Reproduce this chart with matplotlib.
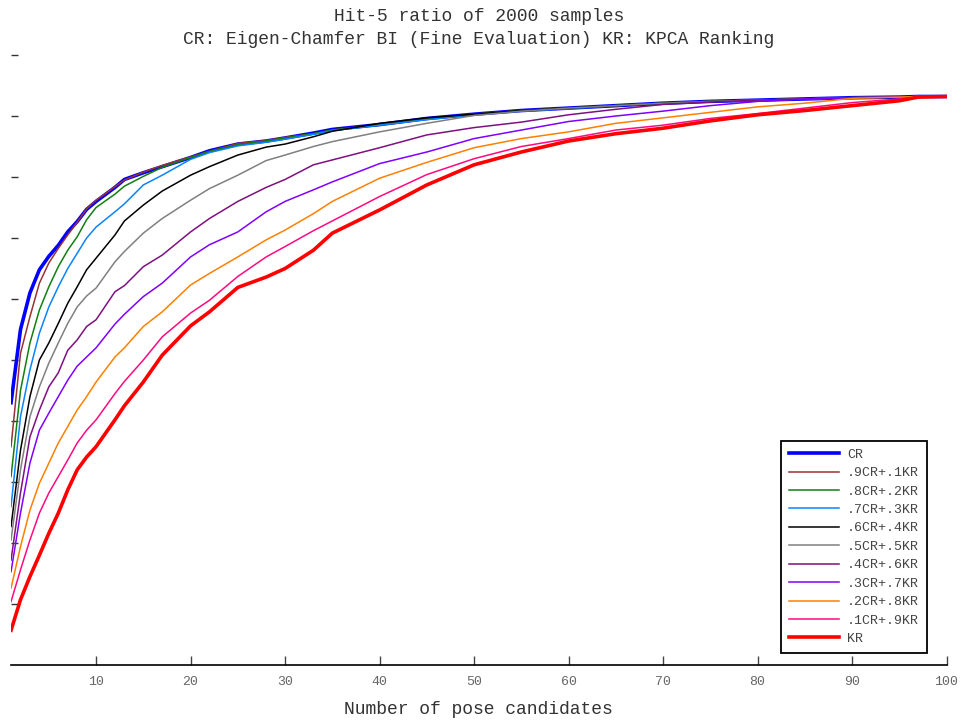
import matplotlib
matplotlib.use("Agg")
import matplotlib.pyplot as plt

plt.rcParams["font.family"] = ["Liberation Mono", "DejaVu Sans Mono"]

# number of pose candidates (sampled positions along each curve)
adaylar = [1, 2, 3, 4, 5, 6, 7, 8, 9, 10, 12, 13, 15, 17, 20, 22, 25, 28, 30, 33,
           35, 40, 45, 50, 55, 60, 65, 70, 75, 80, 85, 90, 95, 97, 100]

cr = [0.430, 0.550, 0.610, 0.648, 0.670, 0.688, 0.710, 0.727, 0.747, 0.760, 0.783, 0.796,
      0.807, 0.817, 0.832, 0.843, 0.854, 0.859, 0.864, 0.872, 0.878, 0.886, 0.896, 0.903,
      0.909, 0.913, 0.917, 0.921, 0.924, 0.926, 0.928, 0.930, 0.931, 0.932, 0.932]
cr9 = [0.358, 0.511, 0.571, 0.626, 0.659, 0.683, 0.705, 0.726, 0.748, 0.762, 0.784, 0.795,
       0.808, 0.819, 0.833, 0.842, 0.855, 0.860, 0.865, 0.871, 0.877, 0.886, 0.895, 0.903,
       0.909, 0.913, 0.917, 0.921, 0.924, 0.926, 0.928, 0.930, 0.931, 0.932, 0.932]
cr8 = [0.309, 0.450, 0.528, 0.582, 0.620, 0.653, 0.680, 0.702, 0.730, 0.750, 0.772, 0.785,
       0.801, 0.816, 0.832, 0.842, 0.853, 0.859, 0.864, 0.871, 0.877, 0.885, 0.895, 0.903,
       0.909, 0.913, 0.917, 0.921, 0.924, 0.926, 0.928, 0.930, 0.931, 0.932, 0.932]
cr7 = [0.260, 0.407, 0.484, 0.544, 0.587, 0.620, 0.650, 0.675, 0.700, 0.718, 0.743, 0.756,
       0.787, 0.803, 0.829, 0.840, 0.851, 0.857, 0.862, 0.870, 0.876, 0.885, 0.894, 0.902,
       0.908, 0.912, 0.917, 0.921, 0.924, 0.926, 0.928, 0.930, 0.931, 0.932, 0.932]
cr6 = [0.227, 0.352, 0.440, 0.500, 0.528, 0.560, 0.593, 0.620, 0.648, 0.667, 0.705, 0.728,
       0.754, 0.777, 0.803, 0.817, 0.836, 0.849, 0.854, 0.866, 0.875, 0.888, 0.897, 0.903,
       0.909, 0.913, 0.917, 0.921, 0.924, 0.926, 0.928, 0.930, 0.931, 0.932, 0.932]
cr5 = [0.205, 0.320, 0.407, 0.456, 0.495, 0.528, 0.560, 0.587, 0.605, 0.618, 0.661, 0.678,
       0.708, 0.732, 0.762, 0.781, 0.803, 0.827, 0.836, 0.850, 0.858, 0.874, 0.888, 0.901,
       0.908, 0.913, 0.917, 0.921, 0.924, 0.926, 0.928, 0.930, 0.931, 0.932, 0.932]
cr4 = [0.172, 0.282, 0.374, 0.418, 0.456, 0.479, 0.516, 0.533, 0.555, 0.566, 0.612, 0.622,
       0.653, 0.672, 0.710, 0.732, 0.760, 0.783, 0.796, 0.820, 0.828, 0.848, 0.869, 0.881,
       0.890, 0.902, 0.911, 0.919, 0.923, 0.926, 0.928, 0.930, 0.931, 0.932, 0.932]
cr3 = [0.153, 0.249, 0.331, 0.385, 0.413, 0.440, 0.467, 0.490, 0.505, 0.520, 0.559, 0.575,
       0.604, 0.626, 0.669, 0.689, 0.710, 0.743, 0.760, 0.779, 0.792, 0.822, 0.841, 0.863,
       0.877, 0.891, 0.900, 0.908, 0.917, 0.924, 0.928, 0.930, 0.931, 0.932, 0.932]
cr2 = [0.126, 0.194, 0.254, 0.298, 0.331, 0.364, 0.391, 0.418, 0.440, 0.464, 0.505, 0.520,
       0.555, 0.579, 0.623, 0.642, 0.669, 0.697, 0.713, 0.740, 0.760, 0.798, 0.824, 0.848,
       0.863, 0.874, 0.888, 0.897, 0.906, 0.915, 0.921, 0.929, 0.931, 0.932, 0.932]
cr1 = [0.104, 0.156, 0.205, 0.249, 0.282, 0.309, 0.336, 0.364, 0.385, 0.402, 0.445, 0.465,
       0.500, 0.538, 0.577, 0.598, 0.637, 0.669, 0.686, 0.712, 0.728, 0.768, 0.804, 0.830,
       0.850, 0.863, 0.877, 0.885, 0.896, 0.904, 0.913, 0.922, 0.928, 0.931, 0.932]
kr = [0.057, 0.107, 0.145, 0.180, 0.216, 0.249, 0.287, 0.320, 0.341, 0.358, 0.402, 0.425,
      0.464, 0.508, 0.556, 0.579, 0.619, 0.636, 0.650, 0.680, 0.708, 0.746, 0.787, 0.820,
      0.841, 0.859, 0.871, 0.880, 0.892, 0.902, 0.909, 0.917, 0.925, 0.931, 0.932]

seriler = [cr, cr9, cr8, cr7, cr6, cr5, cr4, cr3, cr2, cr1, kr]
etiketler = ["CR", ".9CR+.1KR", ".8CR+.2KR", ".7CR+.3KR", ".6CR+.4KR", ".5CR+.5KR",
             ".4CR+.6KR", ".3CR+.7KR", ".2CR+.8KR", ".1CR+.9KR", "KR"]
renkler = ["#0000ff", "#993333", "#108010", "#0a84ff", "#000000", "#808080",
           "#7f107f", "#8000ff", "#ff8000", "#ff0a80", "#ff0000"]

fig = plt.figure(figsize=(9.68, 7.22), dpi=100)
ax = fig.add_axes([0.0114, 0.0789, 0.9664, 0.8449])

for y, etiket, renk in zip(seriler, etiketler, renkler):
    kalin = 2.6 if etiket in ("CR", "KR") else 1.1
    ax.plot(adaylar, y, color=renk, linewidth=kalin, label=etiket)

ax.set_xlim(1, 100)
ax.set_ylim(0, 1)
ax.set_xticks(range(10, 101, 10))
ax.set_yticks([i / 10 for i in range(1, 11)])
ax.set_yticklabels([])
ax.tick_params(axis="x", direction="in", length=6.5, width=1, color="#444444",
               labelcolor="#666666", labelsize=9.5, pad=8)
ax.tick_params(axis="y", direction="in", length=5, width=1, color="#333333")

for s in ["top", "right", "left"]:
    ax.spines[s].set_visible(False)
ax.spines["bottom"].set_linewidth(1.2)

plt.title("Hit-5 ratio of 2000 samples\nCR: Eigen-Chamfer BI (Fine Evaluation) KR: KPCA Ranking",
          fontsize=13, color="#333333", linespacing=1.45, pad=8)
plt.xlabel("Number of pose candidates", fontsize=13, color="#333333", labelpad=9)

leg = ax.legend(loc="lower right", bbox_to_anchor=(0.979, 0.0197), borderaxespad=0,
                fontsize=9.5, handlelength=3.8, labelspacing=0.47, fancybox=False,
                framealpha=1, edgecolor="black", borderpad=0.6, handletextpad=0.6)
leg.get_frame().set_linewidth(1.3)
for t in leg.get_texts():
    t.set_color("#444444")

plt.savefig("out.png", dpi=100)
